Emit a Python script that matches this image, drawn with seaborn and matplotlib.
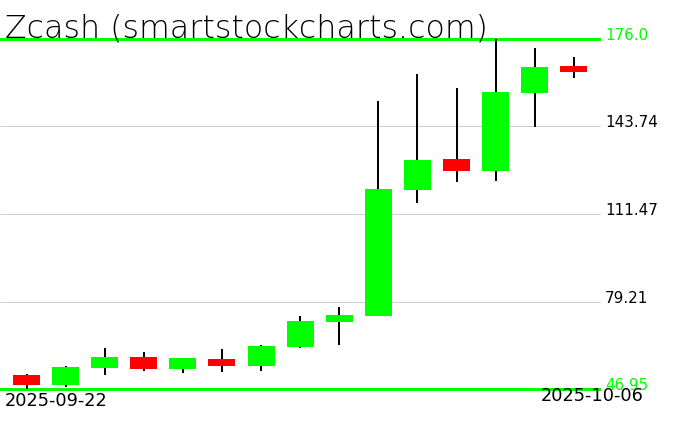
import matplotlib
matplotlib.use("Agg")
import matplotlib.pyplot as plt
import matplotlib.transforms as mtransforms
import seaborn as sns
import pandas as pd

dates = pd.date_range("2025-09-22", "2025-10-06", freq="D").strftime("%Y-%m-%d").tolist()
opens = [52.12, 48.54, 54.70, 58.75, 54.44, 58.00, 55.55, 62.55, 71.66, 73.98, 120.44, 131.76, 127.44, 156.20, 166.04]
highs = [52.49, 55.55, 62.07, 60.71, 58.50, 61.70, 63.00, 73.87, 77.19, 153.14, 163.10, 157.93, 176.00, 172.68, 169.36]
lows = [46.95, 47.80, 52.23, 53.70, 52.96, 53.33, 53.70, 62.07, 63.29, 73.87, 115.64, 123.39, 123.75, 143.66, 161.73]
closes = [48.54, 55.07, 58.75, 54.44, 58.38, 55.55, 62.81, 72.03, 74.24, 120.70, 131.39, 127.44, 156.46, 165.68, 163.94]
level_labels = ["176.0", "143.74", "111.47", "79.21", "46.95"]
title = "Zcash (smartstockcharts.com)"

df = pd.DataFrame({"date": dates, "open": opens, "high": highs, "low": lows, "close": closes})
df["idx"] = range(len(df))
df["up"] = df["close"] >= df["open"]

sns.set_style("white")
plt.rcParams["font.family"] = ["DejaVu Sans"]

W, H = 676, 431
fig = plt.figure(figsize=(W / 100, H / 100), dpi=100)
ax = fig.add_axes([0, 41 / H, 600 / W, 350 / H])

ymin, ymax = min(lows), max(highs)
levels = [float(v) for v in level_labels]

for i, v in enumerate(levels):
    if i in (0, len(levels) - 1):
        ax.axhline(v, color="#00ff00", lw=0.75, zorder=1, antialiased=False, clip_on=False)
    else:
        ax.axhline(v, color="#d0d0d0", lw=0.72, zorder=1, snap=True, clip_on=False)

ax.vlines(df["idx"], df["low"], df["high"], color="black", lw=1.1, zorder=2, antialiased=False)
colors = ["#00ff00" if u else "#ff0000" for u in df["up"]]
bottoms = df[["open", "close"]].min(axis=1)
heights = (df["open"] - df["close"]).abs()
ax.bar(df["idx"], heights, bottom=bottoms, width=0.69, color=colors, zorder=3,
       linewidth=0, antialiased=False)

ax.set_xlim(-0.678, 14.67)
ax.set_ylim(ymin, ymax)
ax.set_xticks([])
ax.set_yticks([])
for s in ax.spines.values():
    s.set_visible(False)
ax.patch.set_alpha(0)

trans = mtransforms.blended_transform_factory(fig.transFigure, ax.transData)
for i, (v, lab) in enumerate(zip(levels, level_labels)):
    col = "#00ff00" if i in (0, len(levels) - 1) else "black"
    ax.text(605 / W, v, lab, transform=trans, color=col, fontsize=10.9,
            va="baseline", ha="left", clip_on=False)

fig.text(5 / W, 1 - 37 / H, title, fontsize=22.8, fontweight="ultralight",
         va="baseline", ha="left", color="black")
fig.text(5 / W, 1 - 406 / H, dates[0], fontsize=12.8, va="baseline", ha="left",
         color="black")
fig.text(541 / W, 1 - 401 / H, dates[-1], fontsize=12.8, va="baseline", ha="left",
         color="black")

fig.savefig("out.png", dpi=100)
